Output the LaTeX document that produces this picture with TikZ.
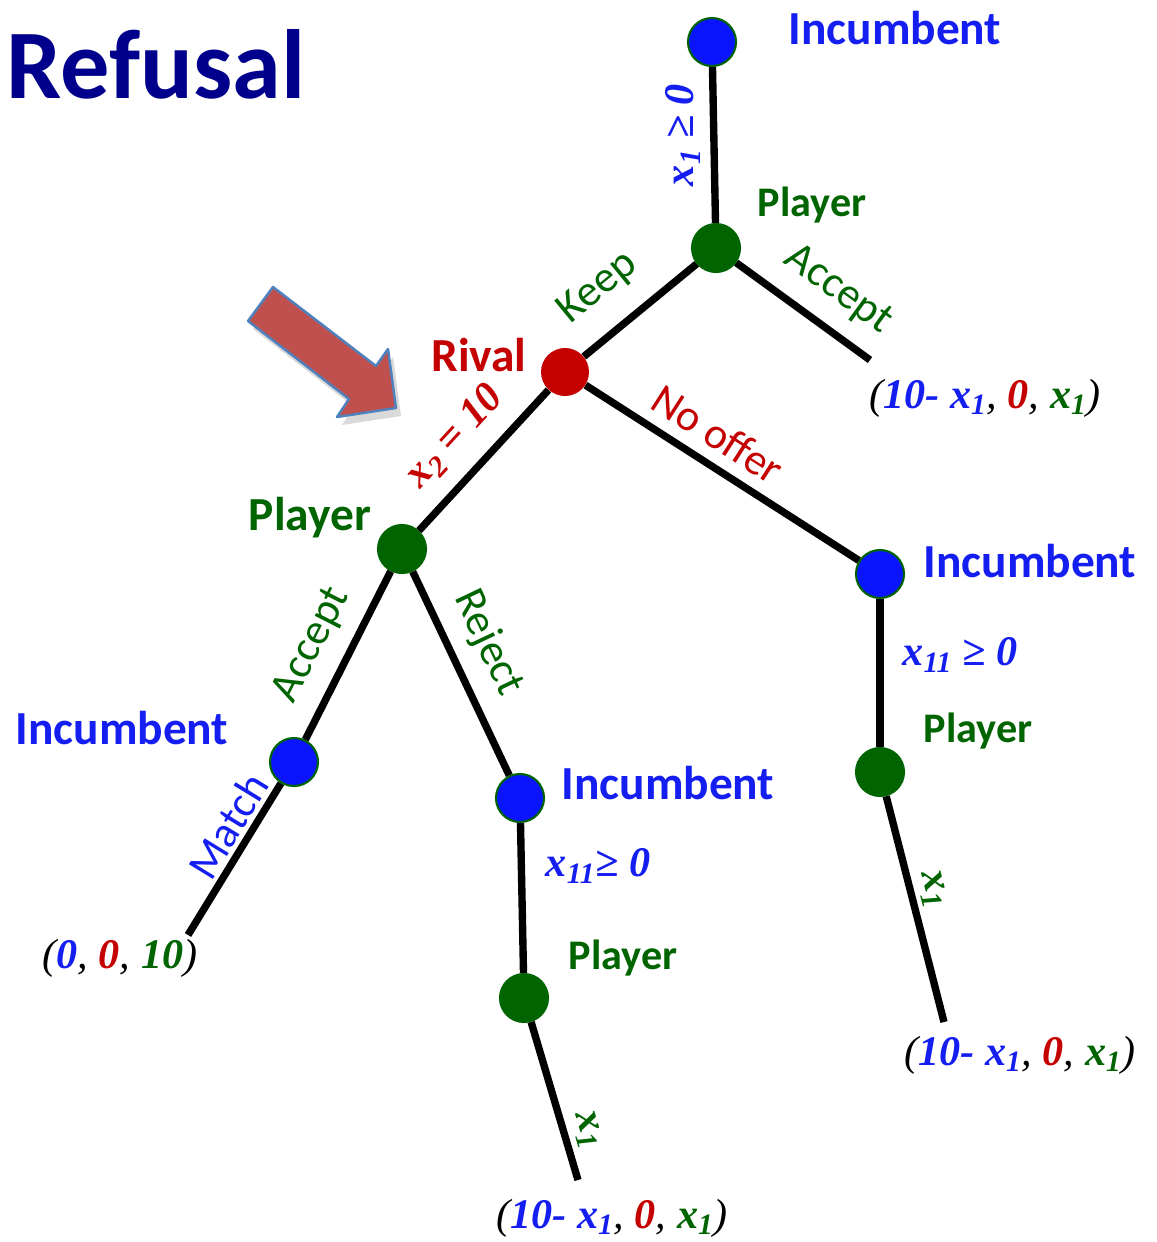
\documentclass[tikz,border=0pt]{standalone}
\usepackage{fontspec}
\setmainfont{Carlito}
\newfontfamily\payfont{Liberation Serif}
\definecolor{incblue}{RGB}{10,20,255}
\definecolor{txtblue}{RGB}{20,30,240}
\definecolor{rivred}{RGB}{196,0,0}
\definecolor{pgreen}{RGB}{0,100,0}
\definecolor{titlenavy}{RGB}{0,0,140}
\definecolor{arrowfill}{RGB}{192,80,77}
\definecolor{arrowline}{RGB}{79,129,189}
\newcommand{\bx}[2]{\textcolor{#1}{\bfseries #2}}
\tikzset{
  dot/.style={circle, minimum size=0.96cm, inner sep=0pt},
  inc/.style={dot, fill=incblue, draw=pgreen, line width=1.2pt},
  ply/.style={dot, fill=pgreen, draw=pgreen, line width=1.2pt},
  riv/.style={dot, fill=rivred},
  edge/.style={line width=4.2pt, black},
  who/.style={font=\fontsize{27}{32}\selectfont\bfseries, inner sep=0pt},
  who2/.style={font=\fontsize{24}{29}\selectfont\bfseries, inner sep=0pt},
  elab/.style={font=\fontsize{25}{30}\selectfont, inner sep=0pt},
  mlab/.style={font=\fontsize{24}{29}\selectfont\payfont\bfseries\itshape, inner sep=0pt},
  pay/.style={font=\fontsize{24}{29}\selectfont\payfont\itshape, inner sep=0pt},
}
\begin{document}
\begin{tikzpicture}[x=0.02cm, y=-0.02cm]
\useasboundingbox (0,0) rectangle (1157,1242);

% title
\node[font=\fontsize{56}{64}\selectfont\bfseries, text=titlenavy, inner sep=0pt] (title) at (156,64) {Refusal};

% pointer arrow with a soft shadow
\fill[black, opacity=0.15] (278,295) -- (381,374) -- (393,357) -- (401,416) -- (342,425) -- (354,407) -- (253,329) -- cycle;
\draw[fill=arrowfill, draw=arrowline, line width=1.4pt, line join=round]
  (273,287) -- (376,366) -- (388,349) -- (396,408) -- (337,417) -- (349,399) -- (248,321) -- cycle;

% decision nodes
\node[inc] (i0) at (712,42) {};
\node[ply] (p0) at (716,248) {};
\node[riv] (r)  at (565,372) {};
\node[ply] (p1) at (402,549) {};
\node[inc] (i1) at (880,574) {};
\node[ply] (p2) at (880,772) {};
\node[inc] (i2) at (294,762) {};
\node[inc] (i3) at (520,798) {};
\node[ply] (p3) at (524,998) {};
\coordinate (a0) at (870,360);
\coordinate (m)  at (188,935);
\coordinate (e3) at (578,1180);
\coordinate (e2) at (944,1022);

% branches
\draw[edge] (i0) -- (p0);
\draw[edge] (p0) -- (r);
\draw[edge] (p0) -- (a0);
\draw[edge] (r) -- (p1);
\draw[edge] (r) -- (i1);
\draw[edge] (p1) -- (i2);
\draw[edge] (p1) -- (i3);
\draw[edge] (i2) -- (m);
\draw[edge] (i3) -- (p3);
\draw[edge] (p3) -- (e3);
\draw[edge] (i1) -- (p2);
\draw[edge] (p2) -- (e2);

% player names
\node[who, text=txtblue] (n0) at (895,28) {Incumbent};
\node[who2, text=pgreen] (n1) at (812,205) {Player};
\node[who, text=rivred] (n2) at (479,355) {Rival};
\node[who, text=pgreen] (n3) at (310,518) {Player};
\node[who, text=txtblue] (n4) at (1030,561) {Incumbent};
\node[who2, text=pgreen] (n5) at (978,731) {Player};
\node[who, text=txtblue] (n6) at (122,728) {Incumbent};
\node[who, text=txtblue] (n7) at (668,783) {Incumbent};
\node[who2, text=pgreen] (n8) at (623,958) {Player};

% action labels
\node[elab, text=pgreen, rotate=39.4] (l1) at (598,288) {Keep};
\node[elab, text=pgreen, rotate=-36] (l2) at (838,290) {Accept};
\node[elab, text=rivred, rotate=-32.7] (l3) at (718,434) {No offer};
\node[mlab, text=rivred, rotate=47.4] (l4) at (455,437) {x\textsubscript{2} = 10};
\node[elab, text=pgreen, rotate=63] (l5) at (312,645) {Accept};
\node[elab, text=pgreen, rotate=-64.6] (l6) at (488,643) {Reject};
\node[elab, text=txtblue, rotate=58.5] (l7) at (228,826) {Match};
\node[mlab, text=txtblue, rotate=90] (l8) at (683,135) {x\textsubscript{1} ≥ 0};
\node[mlab, text=txtblue] (l9) at (960,655) {x\textsubscript{11} ≥ 0};
\node[mlab, text=txtblue] (l10) at (598,866) {x\textsubscript{11}≥ 0};
\node[mlab, text=pgreen, rotate=-75.6] (l11) at (932,890) {x\textsubscript{1}};
\node[mlab, text=pgreen, rotate=-73.5] (l12) at (587,1130) {x\textsubscript{1}};

% payoffs
\node[pay] (t1) at (985,398) {(\bx{txtblue}{10- x\textsubscript{1}}, \bx{rivred}{0}, \bx{pgreen}{x\textsubscript{1}})};
\node[pay] (t2) at (120,958) {(\bx{txtblue}{0}, \bx{rivred}{0}, \bx{pgreen}{10})};
\node[pay] (t3) at (612,1218) {(\bx{txtblue}{10- x\textsubscript{1}}, \bx{rivred}{0}, \bx{pgreen}{x\textsubscript{1}})};
\node[pay] (t4) at (1020,1055) {(\bx{txtblue}{10- x\textsubscript{1}}, \bx{rivred}{0}, \bx{pgreen}{x\textsubscript{1}})};
\end{tikzpicture}
\end{document}
